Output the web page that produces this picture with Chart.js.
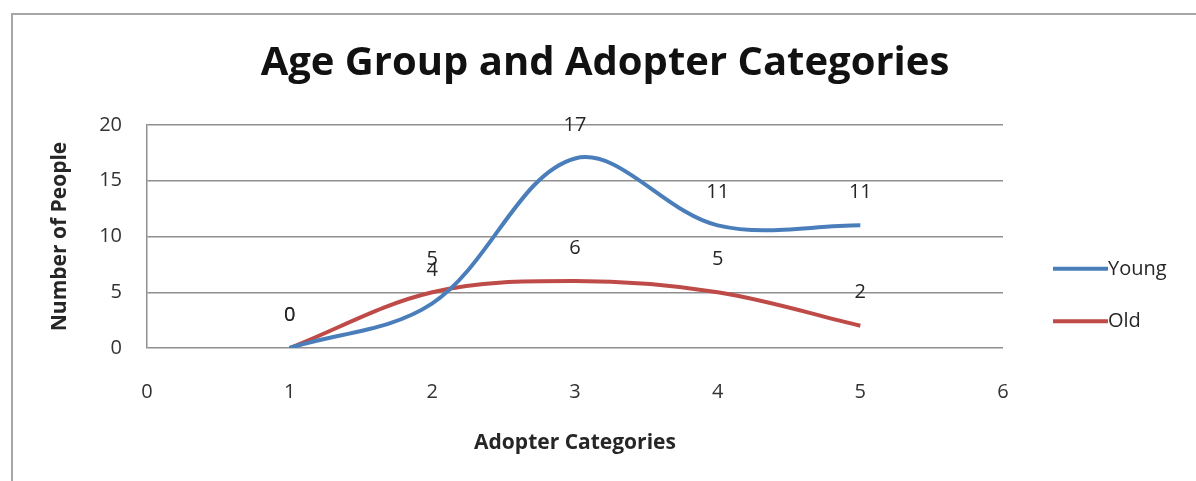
<!DOCTYPE html>
<html>
<head>
<meta charset="utf-8">
<title>Age Group and Adopter Categories</title>
<script src="https://cdn.jsdelivr.net/npm/chart.js@4.4.1/dist/chart.umd.min.js"></script>
<style>
  html, body { margin: 0; padding: 0; background: #fff; }
  #wrap { position: relative; width: 1196px; height: 481px; }
</style>
</head>
<body>
<div id="wrap"><canvas id="adopterChart"></canvas></div>
<script>
"use strict";

// adopter category (x) and head counts per age group
const categories = [1, 2, 3, 4, 5];
const youngCounts = [0, 4, 17, 11, 11];
const oldCounts = [0, 5, 6, 5, 2];
const xTicks = [0, 1, 2, 3, 4, 5, 6];
const yTicks = [0, 5, 10, 15, 20];

const BLUE = "#4a7ebb";
const RED = "#be4b48";
const GRID = "#8f8f8f";
const FONT = "'Open Sans', sans-serif";

const toPoints = (values) => categories.map((c, i) => ({ x: c, y: values[i] }));

// value labels sitting above every point
const pointLabels = {
  id: "pointLabels",
  afterDatasetsDraw(chart) {
    const ctx = chart.ctx;
    ctx.save();
    ctx.font = "20px " + FONT;
    ctx.fillStyle = "#262626";
    ctx.textAlign = "center";
    ctx.textBaseline = "middle";
    chart.data.datasets.forEach((ds, i) => {
      chart.getDatasetMeta(i).data.forEach((pt, j) => {
        ctx.fillText(String(ds.data[j].y), pt.x, pt.y - 33);
      });
    });
    ctx.restore();
  },
};

// outer frame plus the legend on the right
const frameAndLegend = {
  id: "frameAndLegend",
  afterDraw(chart) {
    const ctx = chart.ctx;
    ctx.save();
    ctx.strokeStyle = "#a6a6a6";
    ctx.lineWidth = 2;
    ctx.beginPath();
    ctx.moveTo(12, chart.height + 2);
    ctx.lineTo(12, 14);
    ctx.lineTo(chart.width + 2, 14);
    ctx.stroke();

    const area = chart.chartArea;
    const x0 = area.right + 50;
    const yScale = chart.scales.y;
    const rowY = [yScale.getPixelForValue(7.1), yScale.getPixelForValue(2.4)];
    ctx.font = "20px " + FONT;
    ctx.textBaseline = "middle";
    ctx.textAlign = "left";
    chart.data.datasets.forEach((ds, i) => {
      ctx.strokeStyle = ds.borderColor;
      ctx.lineWidth = 4;
      ctx.beginPath();
      ctx.moveTo(x0, rowY[i]);
      ctx.lineTo(x0 + 55, rowY[i]);
      ctx.stroke();
      ctx.fillStyle = "#262626";
      ctx.fillText(ds.label, x0 + 55, rowY[i]);
    });
    ctx.restore();
  },
};

new Chart(document.getElementById("adopterChart"), {
  type: "scatter",
  data: {
    datasets: [
      {
        label: "Young",
        data: toPoints(youngCounts),
        borderColor: BLUE,
        backgroundColor: BLUE,
        showLine: true,
        borderWidth: 4,
        tension: 0.35,
        pointRadius: 0,
      },
      {
        label: "Old",
        data: toPoints(oldCounts),
        borderColor: RED,
        backgroundColor: RED,
        showLine: true,
        borderWidth: 4,
        tension: 0.35,
        pointRadius: 0,
      },
    ],
  },
  options: {
    responsive: true,
    maintainAspectRatio: false,
    animation: false,
    layout: { padding: { left: 14, right: 0, top: 0, bottom: 0 } },
    plugins: {
      legend: { display: false },
      tooltip: { enabled: false },
      title: {
        display: true,
        text: "Age Group and Adopter Categories",
        color: "#111",
        font: { family: FONT, size: 40, weight: "bold" },
        padding: { top: 40, bottom: 37 },
      },
    },
    scales: {
      x: {
        type: "linear",
        min: 0,
        max: 6,
        afterBuildTicks: (scale) => {
          scale.ticks = xTicks.map((v) => ({ value: v }));
        },
        afterFit: (scale) => {
          scale.height = 133;
        },
        grid: { display: false },
        border: { display: false },
        ticks: {
          color: "#333",
          padding: 24,
          font: { family: FONT, size: 20 },
          maxRotation: 0,
        },
        title: {
          display: true,
          text: "Adopter Categories",
          color: "#262626",
          font: { family: FONT, size: 21, weight: "bold" },
          padding: { top: 0, bottom: 25 },
        },
      },
      y: {
        min: 0,
        max: 20,
        afterBuildTicks: (scale) => {
          scale.ticks = yTicks.map((v) => ({ value: v }));
        },
        afterFit: (scale) => {
          scale.width = 133;
        },
        grid: { color: GRID, lineWidth: 1.5, drawTicks: false },
        border: { display: true, color: GRID, width: 1.5 },
        ticks: {
          color: "#333",
          padding: 25,
          font: { family: FONT, size: 20 },
        },
        title: {
          display: true,
          text: "Number of People",
          color: "#262626",
          font: { family: FONT, size: 21, weight: "bold" },
          padding: { top: 33, bottom: 0 },
        },
      },
      // empty right-hand axis keeps room for the legend
      legendSpace: {
        type: "linear",
        position: "right",
        min: 0,
        max: 20,
        afterFit: (scale) => {
          scale.width = 193;
        },
        grid: { display: false },
        border: { display: false },
        ticks: { display: false },
      },
    },
  },
  plugins: [pointLabels, frameAndLegend],
});
</script>
</body>
</html>
